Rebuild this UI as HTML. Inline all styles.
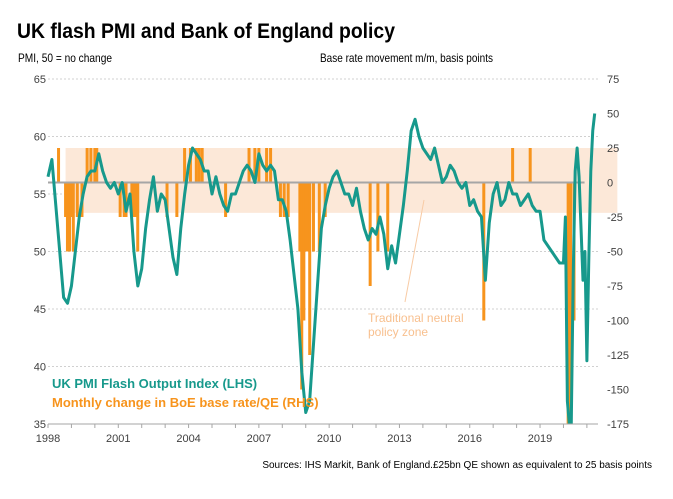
<!DOCTYPE html>
<html><head><meta charset="utf-8"><style>
html,body{margin:0;padding:0;background:#fff;width:673px;height:499px;overflow:hidden;}
svg{display:block;font-family:"Liberation Sans",Arial,sans-serif;}
</style></head><body>
<svg id="chart" width="673" height="499" viewBox="0 0 673 499" xmlns="http://www.w3.org/2000/svg">
<defs><clipPath id="plotclip"><rect x="40" y="70" width="580" height="354"/></clipPath></defs>
<text x="17" y="38" font-size="21" font-weight="bold" fill="#000" textLength="378" lengthAdjust="spacingAndGlyphs">UK flash PMI and Bank of England policy</text>
<text x="18" y="62" font-size="12" fill="#000" textLength="94" lengthAdjust="spacingAndGlyphs">PMI, 50 = no change</text>
<text x="320" y="62" font-size="12" fill="#000" textLength="173" lengthAdjust="spacingAndGlyphs">Base rate movement m/m, basis points</text>
<g id="grid"></g>
<g id="band"></g>
<g id="bars" clip-path="url(#plotclip)"></g>
<g id="zero"></g>
<g id="line" clip-path="url(#plotclip)"></g>
<g id="axes"></g>
<line x1="405" y1="302" x2="424" y2="200" stroke="#f8cba5" stroke-width="1"/>
<text x="368" y="322" font-size="12" fill="#f8c08f">Traditional neutral</text>
<text x="368" y="336" font-size="12" fill="#f8c08f">policy zone</text>
<text x="52" y="388" font-size="13" font-weight="bold" fill="#17998c">UK PMI Flash Output Index (LHS)</text>
<text x="52" y="407" font-size="13" font-weight="bold" fill="#f7941d">Monthly change in BoE base rate/QE (RHS)</text>
<text x="652" y="468" font-size="10" fill="#000" text-anchor="end">Sources: IHS Markit,  Bank of England.£25bn  QE shown as equivalent to 25 basis points</text>
</svg>
<script>
const leftTicks=[35,40,45,50,55,60,65];
const rightTicks=[-175,-150,-125,-100,-75,-50,-25,0,25,50,75];
const xTickLabels=[1998,2001,2004,2007,2010,2013,2016,2019];
// PMI bimonthly 1998-2019
const pmiBimonthly=[
56.5,58,54,50,46,45.5,
47,50,53,55,56.5,57,
57,58.5,57,56,55.5,56,
55,56,53.5,55,50,47,
48.5,52,54.5,56.5,53.5,55,
54.5,52,49.5,48,52,55,
57.5,59,58.5,58,57,57,
55,56.5,55,54,53.5,55,
55,56,57,57.5,57,56,
58.5,57.5,57,57.5,57,54.5,
54.5,53.5,51,48,45,39.5,
36,37,42,47,52,54,
55.5,56.5,57,56,55,55,
54,55.5,53.5,52,51,52,
51.5,53,51.5,48.5,50.5,49,
51.5,54,57,60.5,61.5,60,
59,58.5,58,59,57.5,56,
56.5,57.5,57,56,55.5,56,
54,54.5,53.5,53,47.5,52.5,
55,56,54,54.5,56,55,
55,54,54.5,55,54,53.5,
53.5,51,50.5,50,49.5,49
];
// PMI monthly 2020 - May 2021
const pmiMonthly=[49,53,37,13.8,30,48,57,59,56.5,52,47.5,50,40.5,49.5,57,60.5,62];
// BoE moves: dates and basis points
const boeDates=[1998.45,1998.75,1998.83,1998.92,1999.0,1999.08,1999.25,1999.45,1999.67,1999.83,2000.0,2000.08,
2001.08,2001.25,2001.33,2001.58,2001.67,2001.75,2001.83,2003.08,2003.5,2003.83,2004.08,2004.33,2004.45,2004.58,
2005.58,2006.58,2006.83,2007.0,2007.33,2007.5,2007.92,2008.08,2008.25,2008.75,2008.83,2008.92,2009.0,2009.08,2009.17,
2009.33,2009.58,2009.83,2011.75,2012.08,2012.5,2016.6,2017.83,2018.58,2020.2,2020.3,2020.45];
const boeValues=[25,-25,-50,-50,-25,-50,-25,-25,25,25,25,25,
-25,-25,-25,-25,-25,-25,-50,-25,-25,25,25,25,25,25,
-25,25,25,25,25,25,-25,-25,-25,-50,-150,-100,-50,-50,-125,
-50,-50,-25,-75,-50,-50,-100,25,25,-265,-265,-100];
const NS='http://www.w3.org/2000/svg';
const X0=48,PX=23.43,YTOP=79,YBOT=424;
const x=t=>X0+(t-1998)*PX;
const yL=v=>YTOP+(65-Math.max(v,35))*(YBOT-YTOP)/30;
const yR=v=>YTOP+(75-Math.max(v,-175))*(YBOT-YTOP)/250;
function mk(tag,parent,attrs){const e=document.createElementNS(NS,tag);for(const k in attrs)e.setAttribute(k,attrs[k]);document.getElementById(parent).appendChild(e);return e;}
leftTicks.forEach(v=>{
 if(v>35){const g=mk('line','grid',{x1:48,x2:598,y1:yL(v),y2:yL(v),stroke:'#d0d0d0','stroke-dasharray':'2,2'});
 
 }
 const t=mk('text','axes',{x:46,y:yL(v)+4,'font-size':11,fill:'#404040','text-anchor':'end'});t.textContent=v;
 
 
});
rightTicks.forEach(v=>{
 const t=mk('text','axes',{x:607,y:yR(v)+4,'font-size':11,fill:'#404040'});t.textContent=v;
 
 
});
const b=mk('rect','band',{x:x(1998.75),y:yR(25),width:x(2022.3)-x(1998.75),height:yR(-22)-yR(25),fill:'#fce8d8'});


boeDates.forEach((d,i)=>{
 const v=boeValues[i];
 const r=mk('rect','bars',{x:x(d)-1.5,width:3,y:Math.min(yR(v),yR(0)),height:Math.abs(yR(v)-yR(0)),fill:'#f7941d'});
 
 
});
const z=mk('line','zero',{x1:48,x2:x(2020.9),y1:yR(0),y2:yR(0),stroke:'#a6a6a6','stroke-width':2});


const pts=[];
pmiBimonthly.forEach((v,i)=>pts.push([x(1998+i/6),yL(v)]));
pmiMonthly.forEach((v,i)=>pts.push([x(2020+i/12),yL(v)]));
const p=mk('polyline','line',{points:pts.map(q=>q.join(',')).join(' '),fill:'none',stroke:'#17998c','stroke-width':3,'stroke-linejoin':'round'});


const ax=mk('line','axes',{x1:48,x2:598,y1:YBOT,y2:YBOT,stroke:'#a6a6a6','stroke-width':1});


for(let yr=1998;yr<=2021;yr++){
 const tk=mk('line','axes',{x1:x(yr),x2:x(yr),y1:YBOT,y2:YBOT+4,stroke:'#a6a6a6'});
 
 
}
xTickLabels.forEach(yr=>{
 const t=mk('text','axes',{x:x(yr),y:442,'font-size':11,fill:'#404040','text-anchor':'middle'});t.textContent=yr;
 
 
});
</script>
</body></html>
